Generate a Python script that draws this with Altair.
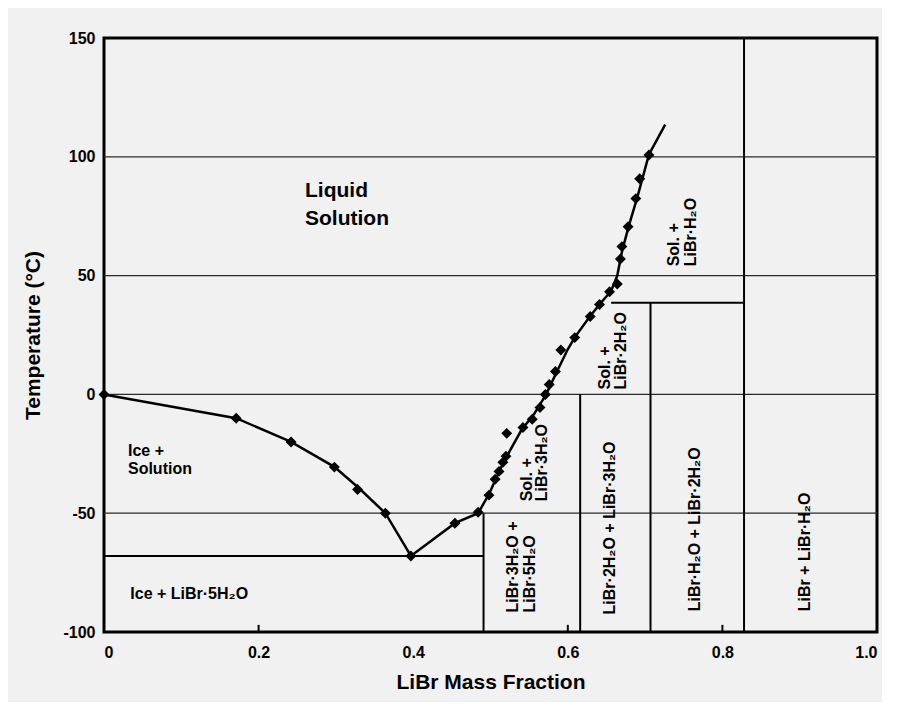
import altair as alt
import pandas as pd

FONT = "Liberation Sans"

# Measured data points (diamonds): LiBr mass fraction, temperature (°C)
pt_x = [0.0, 0.171, 0.242, 0.298, 0.328, 0.364, 0.397,
        0.454, 0.484,
        0.498, 0.506, 0.511, 0.516, 0.520, 0.521, 0.542, 0.554, 0.564, 0.571, 0.576,
        0.584, 0.591, 0.609, 0.629, 0.641,
        0.654, 0.664, 0.668, 0.670, 0.678, 0.688, 0.693, 0.705]
pt_t = [0.0, -10.0, -20.0, -30.6, -40.0, -50.0, -68.0,
        -54.2, -49.6,
        -42.4, -35.7, -32.4, -28.6, -26.0, -16.4, -13.9, -10.5, -5.5, 0.0, 4.2,
        9.6, 18.7, 23.9, 32.8, 37.8,
        43.2, 46.5, 57.0, 62.2, 70.6, 82.4, 90.8, 100.8]

# Liquidus curve vertices
cv_x = [0.0, 0.171, 0.242, 0.298, 0.330, 0.364, 0.397,
        0.454, 0.484, 0.498, 0.516, 0.540, 0.556, 0.572, 0.585, 0.600, 0.609,
        0.629, 0.644, 0.656, 0.664, 0.670, 0.679, 0.690, 0.705, 0.726]
cv_t = [0.0, -10.0, -20.0, -30.5, -39.5, -50.0, -68.0,
        -54.2, -50.0, -42.0, -29.0, -15.0, -8.5, 0.0, 9.0, 19.0, 24.0,
        33.0, 39.0, 43.5, 50.0, 60.0, 71.0, 83.0, 101.0, 113.5]

# Phase boundary segments
seg_x = [0.0, 0.656, 0.491, 0.616, 0.707, 0.828]
seg_x2 = [0.491, 0.828, 0.491, 0.616, 0.707, 0.828]
seg_t = [-68.0, 38.6, -100.0, -100.0, -100.0, -100.0]
seg_t2 = [-68.0, 38.6, -50.0, 0.0, 38.6, 150.0]

# Gridline temperatures
grid_t = [100, 50, 0, -50]

# Inner bottom tick marks
tick_x = [0.2, 0.6, 0.8]

# Region labels
big_text = ["Liquid", "Solution"]
big_x = [0.26, 0.26]
big_t = [82.9, 71.5]

small_text = ["Ice +", "Solution", "Ice + LiBr·5H₂O"]
small_x = [0.031, 0.031, 0.034]
small_t = [-26.0, -33.7, -86.3]

rot_text = ["LiBr·3H₂O +", "LiBr·5H₂O", "Sol. +", "LiBr·3H₂O",
            "LiBr·2H₂O + LiBr·3H₂O", "LiBr·H₂O + LiBr·2H₂O", "LiBr + LiBr·H₂O",
            "Sol. +", "LiBr·2H₂O", "Sol. +", "LiBr·H₂O"]
rot_x = [0.529, 0.551, 0.547, 0.567, 0.655, 0.765, 0.907, 0.648, 0.669, 0.737, 0.759]
rot_t = [-91.8, -91.8, -45.0, -45.0, -92.6, -91.3, -91.3, 2.1, 2.1, 53.9, 53.9]

x_ticks = [0, 0.2, 0.4, 0.6, 0.8, 1.0]
y_ticks = [-100, -50, 0, 50, 100, 150]

xs = alt.Scale(domain=[0, 1], nice=False)
ys = alt.Scale(domain=[-100, 150], nice=False)

pts = pd.DataFrame({"x": pt_x, "t": pt_t})
curve = pd.DataFrame({"x": cv_x, "t": cv_t, "o": list(range(len(cv_x)))})
segs = pd.DataFrame({"x": seg_x, "x2": seg_x2, "t": seg_t, "t2": seg_t2})
grid = pd.DataFrame({"t": grid_t})
ticks = pd.DataFrame({"x": tick_x, "t": [-100] * len(tick_x), "t2": [-97] * len(tick_x)})
big = pd.DataFrame({"label": big_text, "x": big_x, "t": big_t})
small = pd.DataFrame({"label": small_text, "x": small_x, "t": small_t})
rot = pd.DataFrame({"label": rot_text, "x": rot_x, "t": rot_t})

x_axis = alt.Axis(values=x_ticks, labelExpr="datum.value == 0 ? '0' : format(datum.value, '.1f')",
                  title="LiBr Mass Fraction", grid=False, ticks=False, domain=False,
                  labelFont=FONT, labelFontSize=16, labelFontWeight="bold", labelColor="black",
                  labelPadding=12, titleFont=FONT, titleFontSize=21, titleFontWeight="bold",
                  titleColor="black", titlePadding=11)
y_axis = alt.Axis(values=y_ticks, labelExpr="'' + datum.value",
                  title="Temperature (°C)", grid=False, ticks=False, domain=False,
                  labelFont=FONT, labelFontSize=16, labelFontWeight="bold", labelColor="black",
                  labelPadding=9, titleFont=FONT, titleFontSize=21, titleFontWeight="bold",
                  titleColor="black", titleX=-71, titleY=297, titleAngle=270,
                  titleAlign="center", titleBaseline="middle")

base_x = alt.X("x:Q", scale=xs, axis=x_axis)
base_y = alt.Y("t:Q", scale=ys, axis=y_axis)

grid_layer = alt.Chart(grid).mark_rule(color="#2a2a2a", strokeWidth=1.3).encode(
    y=alt.Y("t:Q", scale=ys, axis=y_axis))

seg_layer = alt.Chart(segs).mark_rule(color="black", strokeWidth=2).encode(
    x=base_x, x2="x2:Q", y=base_y, y2="t2:Q")

tick_layer = alt.Chart(ticks).mark_rule(color="black", strokeWidth=2).encode(
    x=base_x, y=base_y, y2="t2:Q")

line_layer = alt.Chart(curve).mark_line(color="black", strokeWidth=2.5).encode(
    x=base_x, y=base_y, order="o:Q")

pt_layer = alt.Chart(pts).mark_point(shape="diamond", filled=True, color="black",
                                     size=120, opacity=1).encode(x=base_x, y=base_y)

big_layer = alt.Chart(big).mark_text(font=FONT, fontSize=21, fontWeight="bold", color="black",
                                     align="left", baseline="alphabetic").encode(
    x=base_x, y=base_y, text="label:N")

small_layer = alt.Chart(small).mark_text(font=FONT, fontSize=16, fontWeight="bold", color="black",
                                         align="left", baseline="alphabetic").encode(
    x=base_x, y=base_y, text="label:N")

rot_layer = alt.Chart(rot).mark_text(font=FONT, fontSize=16, fontWeight="bold", color="black",
                                     align="left", baseline="middle", angle=270).encode(
    x=base_x, y=base_y, text="label:N")

chart = alt.layer(grid_layer, seg_layer, tick_layer, line_layer, pt_layer,
                  big_layer, small_layer, rot_layer).properties(
    width=773, height=594,
    autosize=alt.AutoSizeParams(type="none"),
    padding={"left": 96, "top": 30, "right": 5, "bottom": 70},
    background="#f1f1f1",
).configure_view(stroke="black", strokeWidth=3)

chart.save("out.html", embed_options={"renderer": "svg", "actions": False})
